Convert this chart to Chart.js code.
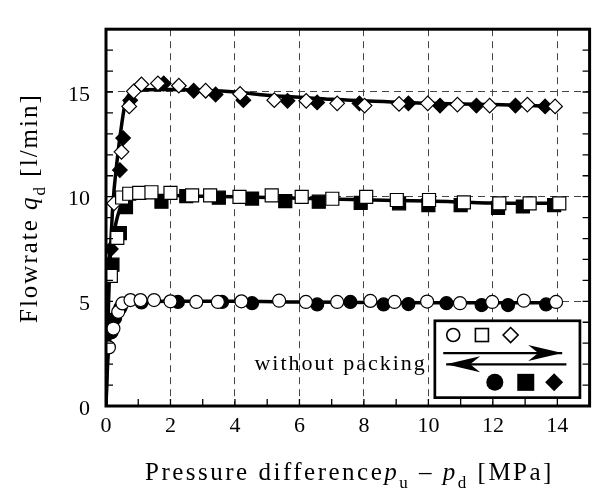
<!DOCTYPE html>
<html>
<head>
<meta charset="utf-8">
<script src="https://cdn.jsdelivr.net/npm/chart.js@4.4.0/dist/chart.umd.min.js"></script>
<style>
    html, body { margin: 0; padding: 0; background: #fff; overflow: hidden; }
    #wrap { width: 600px; height: 497px; }
</style>
</head>
<body>
<div id="wrap"><canvas id="chart" width="600" height="497"></canvas></div>
<script>
// pressure rising (open marks) and falling (filled marks), 5 / 10 / 15 l/min
const circleUpX = [0.09, 0.23, 0.38, 0.51, 0.76, 1.07, 1.49, 2.0, 2.8, 3.47, 4.2, 5.37, 6.2, 7.17, 8.2, 8.95, 9.96, 10.98, 11.98, 12.96, 13.96];
const circleUpY = [2.8, 3.7, 4.5, 4.9, 5.06, 5.06, 5.06, 5.0, 4.97, 4.97, 5.0, 5.03, 4.97, 4.97, 5.02, 4.97, 4.99, 4.91, 4.97, 5.03, 4.97];
const circleDownX = [0.17, 0.28, 0.45, 1.1, 2.23, 3.6, 4.53, 6.55, 7.58, 8.61, 9.38, 10.56, 11.65, 12.47, 13.65];
const circleDownY = [3.52, 4.19, 4.7, 4.95, 4.97, 4.97, 4.91, 4.85, 4.97, 4.85, 4.87, 4.91, 4.82, 4.82, 4.85];

const squareUpX = [0.15, 0.35, 0.5, 0.72, 1.03, 1.41, 2.0, 2.67, 3.23, 4.14, 5.14, 6.07, 7.02, 8.07, 9.02, 10.02, 11.1, 12.2, 13.14, 14.06];
const squareUpY = [6.22, 8.03, 9.96, 10.14, 10.18, 10.21, 10.18, 10.06, 10.06, 9.99, 10.06, 9.99, 9.9, 9.99, 9.84, 9.84, 9.73, 9.68, 9.68, 9.68];
const squareDownX = [0.2, 0.43, 0.62, 1.72, 2.49, 3.5, 4.53, 5.56, 6.6, 7.9, 9.09, 10.0, 11.0, 12.16, 12.93, 13.9];
const squareDownY = [6.75, 8.26, 9.5, 9.76, 10.03, 9.95, 9.91, 9.79, 9.76, 9.7, 9.68, 9.6, 9.6, 9.46, 9.53, 9.6];

const diamondUpX = [0.25, 0.48, 0.72, 0.86, 1.1, 1.61, 2.26, 3.09, 4.16, 5.22, 6.21, 7.17, 8.02, 9.09, 9.98, 10.9, 11.9, 13.07, 13.93];
const diamondUpY = [9.68, 12.14, 14.31, 15.03, 15.36, 15.41, 15.3, 15.06, 14.91, 14.61, 14.58, 14.46, 14.35, 14.43, 14.46, 14.4, 14.35, 14.4, 14.31];
const diamondDownX = [0.15, 0.43, 0.53, 0.75, 1.79, 2.72, 3.4, 4.26, 5.63, 6.55, 7.86, 9.38, 10.36, 11.49, 12.7, 13.62];
const diamondDownY = [7.5, 11.27, 12.8, 14.6, 15.41, 15.06, 14.88, 14.61, 14.58, 14.5, 14.46, 14.46, 14.35, 14.35, 14.35, 14.31];

// hand-drawn mean curves
const fitCircleX = [0, 0.05, 0.1, 0.2, 0.35, 0.5, 0.75, 1.0, 2, 4, 6, 8, 10, 12, 14];
const fitCircleY = [0, 2.0, 3.0, 3.9, 4.45, 4.75, 4.92, 4.98, 5.0, 5.0, 4.97, 4.95, 4.93, 4.93, 4.93];
const fitSquareX = [0, 0.06, 0.15, 0.28, 0.45, 0.6, 0.8, 1.2, 2, 3, 4, 6, 8, 10, 12, 14];
const fitSquareY = [0, 6.1, 7.4, 8.55, 9.5, 9.85, 10.0, 10.05, 10.05, 10.02, 10.0, 9.93, 9.85, 9.79, 9.7, 9.68];
const fitDiamondX = [0, 0.08, 0.2, 0.35, 0.5, 0.6, 0.75, 1.0, 2.0, 3.0, 4.0, 5.0, 6.0, 7.0, 8.0, 10.0, 12.0, 14.0];
const fitDiamondY = [0, 5.0, 9.3, 11.8, 13.6, 14.5, 14.95, 15.1, 15.12, 15.08, 15.0, 14.85, 14.75, 14.65, 14.58, 14.46, 14.4, 14.31];

const xMin = 0, xMax = 15, xStep = 2;
const yMin = 0, yMax = 18, yStep = 5;

const SERIF = '"Liberation Serif", "Times New Roman", serif';

function pts(xs, ys) {
    return xs.map((x, i) => ({ x: x, y: ys[i] }));
}

function marks(xs, ys, style, radius, filled) {
    return {
        type: 'scatter',
        data: pts(xs, ys),
        pointStyle: style,
        pointRadius: radius,
        pointBorderWidth: 1.2,
        pointBorderColor: '#000',
        pointBackgroundColor: filled ? '#000' : '#fff',
        showLine: false,
        order: filled ? 1 : 0
    };
}

function fit(xs, ys) {
    return {
        type: 'line',
        data: pts(xs, ys),
        borderColor: '#000',
        borderWidth: 3.5,
        pointRadius: 0,
        cubicInterpolationMode: 'monotone',
        order: 2
    };
}

// draws a run of text pieces (italic, subscript) one after the other
function drawParts(ctx, parts, x0, y0, spacing) {
    let x = x0;
    ctx.letterSpacing = spacing + 'px';
    parts.forEach(p => {
        ctx.font = (p.italic ? 'italic ' : '') + p.size + 'px ' + SERIF;
        ctx.fillText(p.t, x, y0 + (p.dy || 0));
        x += ctx.measureText(p.t).width;
    });
    ctx.letterSpacing = '0px';
}

const decor = {
    id: 'decor',
    afterDraw(chart) {
        const { ctx, chartArea: a, scales: { x, y } } = chart;
        ctx.save();
        ctx.strokeStyle = '#000';
        ctx.fillStyle = '#000';

        // inward minor ticks
        ctx.lineWidth = 1.3;
        ctx.beginPath();
        for (let v = xMin + 1; v < xMax; v++) {
            const px = x.getPixelForValue(v);
            ctx.moveTo(px, a.bottom);
            ctx.lineTo(px, a.bottom - 7);
        }
        for (let v = yMin + 1; v < yMax; v++) {
            const py = y.getPixelForValue(v);
            ctx.moveTo(a.left, py);
            ctx.lineTo(a.left + 7, py);
            ctx.moveTo(a.right, py);
            ctx.lineTo(a.right - 7, py);
        }
        ctx.stroke();

        // frame
        ctx.lineWidth = 3;
        ctx.strokeRect(a.left, a.top, a.right - a.left, a.bottom - a.top);

        // axis titles
        ctx.textAlign = 'left';
        ctx.textBaseline = 'alphabetic';
        drawParts(ctx, [
            { t: 'Pressure difference', size: 25 },
            { t: 'p', size: 25, italic: true },
            { t: 'u', size: 17, dy: 8 },
            { t: ' \u2013 ', size: 25 },
            { t: 'p', size: 25, italic: true },
            { t: 'd', size: 17, dy: 8 },
            { t: ' [MPa]', size: 25 }
        ], 145, 480, 2.5);

        ctx.save();
        ctx.translate(37, 323);
        ctx.rotate(-Math.PI / 2);
        drawParts(ctx, [
            { t: 'Flowrate ', size: 25 },
            { t: 'q', size: 25, italic: true },
            { t: 'd', size: 17, dy: 8 },
            { t: ' [l/min]', size: 25 }
        ], 0, 0, 2);
        ctx.restore();

        // legend box
        const bx0 = x.getPixelForValue(10.2), bx1 = x.getPixelForValue(14.7);
        const by0 = y.getPixelForValue(4.07), by1 = y.getPixelForValue(0.4);
        ctx.fillStyle = '#fff';
        ctx.fillRect(bx0, by0, bx1 - bx0, by1 - by0);
        ctx.lineWidth = 2.7;
        ctx.strokeRect(bx0, by0, bx1 - bx0, by1 - by0);

        const rowTop = y.getPixelForValue(3.39);
        const rowBot = y.getPixelForValue(1.13);
        ctx.lineWidth = 1.6;
        // open marks
        let cx = x.getPixelForValue(10.77);
        ctx.beginPath(); ctx.arc(cx, rowTop, 6.5, 0, Math.PI * 2); ctx.fillStyle = '#fff'; ctx.fill(); ctx.stroke();
        cx = x.getPixelForValue(11.66);
        ctx.strokeRect(cx - 6.5, rowTop - 6.5, 13, 13);
        cx = x.getPixelForValue(12.55);
        ctx.beginPath();
        ctx.moveTo(cx, rowTop - 7.5); ctx.lineTo(cx + 7.5, rowTop); ctx.lineTo(cx, rowTop + 7.5); ctx.lineTo(cx - 7.5, rowTop);
        ctx.closePath(); ctx.stroke();

        // filled marks
        ctx.fillStyle = '#000';
        cx = x.getPixelForValue(12.06);
        ctx.beginPath(); ctx.arc(cx, rowBot, 8.5, 0, Math.PI * 2); ctx.fill();
        cx = x.getPixelForValue(13.02);
        ctx.fillRect(cx - 8.5, rowBot - 8.5, 17, 17);
        cx = x.getPixelForValue(13.9);
        ctx.beginPath();
        ctx.moveTo(cx, rowBot - 9); ctx.lineTo(cx + 9, rowBot); ctx.lineTo(cx, rowBot + 9); ctx.lineTo(cx - 9, rowBot);
        ctx.closePath(); ctx.fill();

        // arrows
        const arrow = (xa, xb, yy, dir) => {
            const pa = x.getPixelForValue(xa), pb = x.getPixelForValue(xb);
            ctx.lineWidth = 2.2;
            ctx.beginPath();
            ctx.moveTo(pa, yy); ctx.lineTo(pb, yy);
            ctx.stroke();
            const tip = dir > 0 ? pb : pa;
            const back = tip - dir * 34;
            ctx.beginPath();
            ctx.moveTo(tip, yy);
            ctx.lineTo(back, yy - 8);
            ctx.lineTo(back + dir * 10, yy);
            ctx.lineTo(back, yy + 8);
            ctx.closePath();
            ctx.fill();
        };
        arrow(10.46, 14.15, y.getPixelForValue(2.53), 1);
        arrow(10.55, 14.28, y.getPixelForValue(1.99), -1);

        // note
        ctx.fillStyle = '#000';
        ctx.textAlign = 'right';
        ctx.letterSpacing = '2px';
        ctx.font = '22px ' + SERIF;
        ctx.fillText('without packing', x.getPixelForValue(9.95), y.getPixelForValue(1.73));
        ctx.letterSpacing = '0px';

        ctx.restore();
    }
};

const ctx = document.getElementById('chart').getContext('2d');
const chart = new Chart(ctx, {
    type: 'scatter',
    data: {
        datasets: [
            marks(circleUpX, circleUpY, 'circle', 6.5, false),
            marks(squareUpX, squareUpY, 'rect', 9.2, false),
            marks(diamondUpX, diamondUpY, 'rectRot', 7.3, false),
            marks(circleDownX, circleDownY, 'circle', 6.5, true),
            marks(squareDownX, squareDownY, 'rect', 9.2, true),
            marks(diamondDownX, diamondDownY, 'rectRot', 7.3, true),
            fit(fitCircleX, fitCircleY),
            fit(fitSquareX, fitSquareY),
            fit(fitDiamondX, fitDiamondY)
        ]
    },
    options: {
        responsive: false,
        animation: false,
        devicePixelRatio: 1,
        layout: { padding: { left: 0, right: 6.5, top: 8, bottom: 0 } },
        plugins: {
            legend: { display: false },
            tooltip: { enabled: false }
        },
        scales: {
            x: {
                type: 'linear',
                min: xMin,
                max: xMax,
                ticks: {
                    stepSize: xStep,
                    includeBounds: false,
                    color: '#000',
                    padding: 7,
                    font: { family: SERIF, size: 22 }
                },
                grid: { color: '#444', lineWidth: 1, drawTicks: false },
                border: { display: false, dash: [7, 5] },
                afterFit: (scale) => { scale.height = 91; }
            },
            y: {
                type: 'linear',
                min: yMin,
                max: yMax,
                ticks: {
                    stepSize: yStep,
                    includeBounds: false,
                    color: '#000',
                    padding: 16,
                    labelOffset: 3,
                    font: { family: SERIF, size: 22 }
                },
                grid: { color: '#444', lineWidth: 1, drawTicks: false },
                border: { display: false, dash: [7, 5] },
                afterFit: (scale) => { scale.width = 106; }
            }
        }
    },
    plugins: [decor]
});
</script>
</body>
</html>
